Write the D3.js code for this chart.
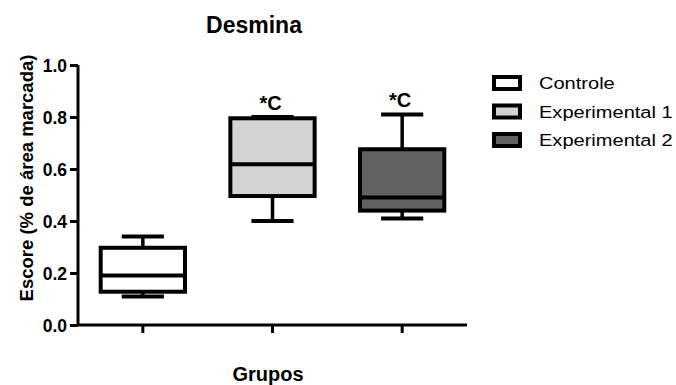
<!DOCTYPE html>
<html lang="pt">
<head>
<meta charset="UTF-8">
<title>Desmina</title>
<script src="https://cdn.jsdelivr.net/npm/d3@7"></script>
<style>
  body { margin: 0; padding: 0; overflow: hidden; background: #fff; }
  svg { display: block; }
  text { font-family: "Liberation Sans", Arial, sans-serif; fill: #000; }
</style>
</head>
<body>
<svg id="chart" width="676" height="385"></svg>
<script>
// data
var groups = ["Controle", "Experimental 1", "Experimental 2"];
var fills = ["#ffffff", "#d3d3d3", "#626262"];
var whiskerLow = [0.11, 0.40, 0.41];
var boxLow = [0.128, 0.496, 0.44];
var medians = [0.19, 0.618, 0.49];
var boxHigh = [0.297, 0.795, 0.676];
var whiskerHigh = [0.34, 0.80, 0.81];
var marks = ["", "*C", "*C"];
var yTicks = [0, 0.2, 0.4, 0.6, 0.8, 1.0];

var svg = d3.select("#chart");

var x = d3.scaleBand().domain(groups).range([78, 467]);
var y = d3.scaleLinear().domain([0, 1]).range([325, 65]);

var boxW = x.bandwidth() * 0.65;
var capW = boxW / 2;

// axes
var yAxis = svg.append("g")
    .attr("transform", "translate(78,0)")
    .call(d3.axisLeft(y).tickValues(yTicks).tickFormat(d3.format(".1f")).tickSize(8).tickPadding(3));
yAxis.select(".domain").attr("stroke-width", 3).attr("d", "M0," + y(1) + "V" + y(0));
yAxis.selectAll(".tick line").attr("stroke-width", 3);
yAxis.selectAll(".tick text")
    .attr("font-size", 17.5).attr("font-weight", "bold")
    .attr("font-family", "Liberation Sans, Arial, sans-serif")
    .attr("dy", "0.36em");

var xAxis = svg.append("g")
    .attr("transform", "translate(0,325)")
    .call(d3.axisBottom(x).tickSize(8).tickFormat(""));
xAxis.select(".domain").attr("stroke-width", 3).attr("d", "M78,0H467");
xAxis.selectAll(".tick line").attr("stroke-width", 3);

// boxes
var data = groups.map(function (g, i) {
    return { g: g, lo: whiskerLow[i], q1: boxLow[i], med: medians[i], q3: boxHigh[i], hi: whiskerHigh[i], fill: fills[i], mark: marks[i] };
});

var box = svg.append("g").selectAll("g").data(data).join("g")
    .attr("transform", function (d) { return "translate(" + (x(d.g) + x.bandwidth() / 2) + ",0)"; });

box.append("line")
    .attr("x1", 0).attr("x2", 0)
    .attr("y1", function (d) { return y(d.hi); })
    .attr("y2", function (d) { return y(d.lo); })
    .attr("stroke", "#000").attr("stroke-width", 3.5);

box.selectAll("line.cap").data(function (d) { return [d.lo, d.hi]; }).join("line")
    .attr("class", "cap")
    .attr("x1", -capW / 2).attr("x2", capW / 2)
    .attr("y1", function (v) { return y(v); })
    .attr("y2", function (v) { return y(v); })
    .attr("stroke", "#000").attr("stroke-width", 4);

box.append("rect")
    .attr("x", -boxW / 2).attr("width", boxW)
    .attr("y", function (d) { return y(d.q3); })
    .attr("height", function (d) { return y(d.q1) - y(d.q3); })
    .attr("fill", function (d) { return d.fill; })
    .attr("stroke", "#000").attr("stroke-width", 4);

box.append("line")
    .attr("x1", -boxW / 2).attr("x2", boxW / 2)
    .attr("y1", function (d) { return y(d.med); })
    .attr("y2", function (d) { return y(d.med); })
    .attr("stroke", "#000").attr("stroke-width", 4);

box.append("text")
    .attr("x", -2)
    .attr("y", function (d) { return y(d.hi) - 7; })
    .attr("text-anchor", "middle")
    .attr("font-size", 20).attr("font-weight", "bold")
    .text(function (d) { return d.mark; });

// titles
svg.append("text")
    .attr("x", 254).attr("y", 33)
    .attr("text-anchor", "middle")
    .attr("font-size", 23).attr("font-weight", "bold")
    .text("Desmina");

svg.append("text")
    .attr("x", 268).attr("y", 381)
    .attr("text-anchor", "middle")
    .attr("font-size", 20).attr("font-weight", "bold")
    .text("Grupos");

svg.append("text")
    .attr("transform", "translate(33,178) rotate(-90)")
    .attr("text-anchor", "middle")
    .attr("font-size", 18.5).attr("font-weight", "bold")
    .text("Escore (% de área marcada)");

// legend
var leg = svg.append("g").selectAll("g").data(data).join("g")
    .attr("transform", function (d, i) { return "translate(494," + (83 + i * 28.5) + ")"; });

leg.append("rect")
    .attr("x", 0).attr("y", -6).attr("width", 26).attr("height", 12)
    .attr("fill", function (d) { return d.fill; })
    .attr("stroke", "#000").attr("stroke-width", 4);

leg.append("text")
    .attr("transform", "translate(45,6) scale(1.18,1)")
    .attr("font-size", 17)
    .text(function (d) { return d.g; });
</script>
</body>
</html>
